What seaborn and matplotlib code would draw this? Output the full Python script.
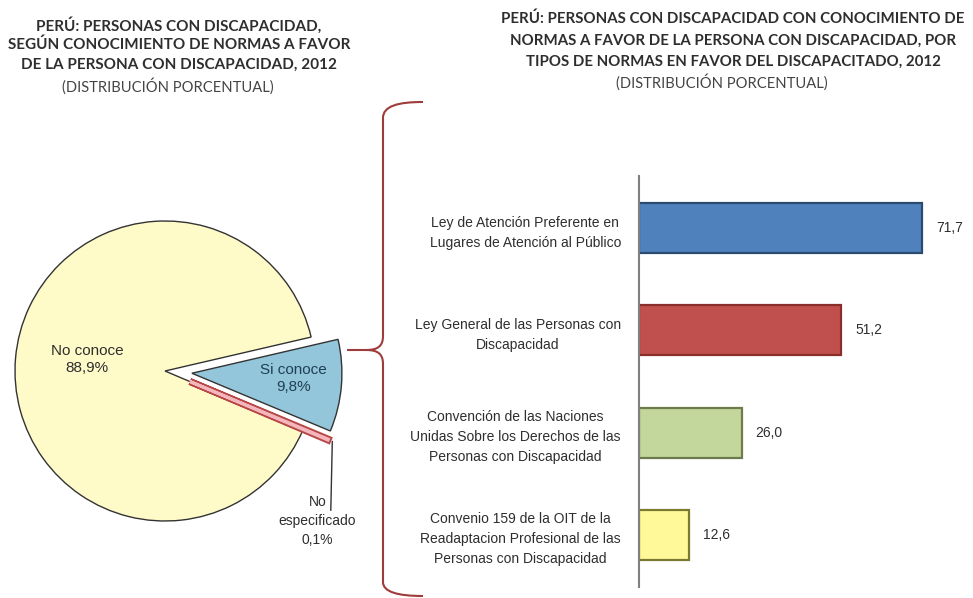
import matplotlib
matplotlib.use('Agg')
import matplotlib.pyplot as plt
import matplotlib.patheffects as pe
import seaborn as sns
import numpy as np
import pandas as pd
from matplotlib.path import Path
from matplotlib.patches import PathPatch
from matplotlib.transforms import Affine2D

# ---------------- data ----------------
pie_labels = ['No especificado', 'Si conoce', 'No conoce']
pie_values = [0.1, 9.8, 88.9]
pie_texts = ['No\nespecificado\n0,1%', 'Si conoce\n9,8%', 'No conoce\n88,9%']

bar_categories = [
    'Ley de Atención Preferente en\nLugares de Atención al Público',
    'Ley General de las Personas con\nDiscapacidad',
    'Convención de las Naciones\nUnidas Sobre los Derechos de las\nPersonas con Discapacidad',
    'Convenio 159 de la OIT de la\nReadaptacion Profesional de las\nPersonas con Discapacidad',
]
bar_values = [71.7, 51.2, 26.0, 12.6]
bar_value_labels = ['71,7', '51,2', '26,0', '12,6']

left_title = ['PERÚ: PERSONAS CON DISCAPACIDAD,',
              'SEGÚN CONOCIMIENTO DE NORMAS A FAVOR',
              'DE LA PERSONA CON DISCAPACIDAD, 2012']
right_title = ['PERÚ: PERSONAS CON DISCAPACIDAD CON CONOCIMIENTO DE',
               'NORMAS A FAVOR DE LA PERSONA CON DISCAPACIDAD, POR',
               'TIPOS DE NORMAS EN FAVOR DEL DISCAPACITADO, 2012']
subtitle = '(DISTRIBUCIÓN PORCENTUAL)'

# ---------------- style ----------------
W, H = 973, 598
sns.set_theme(style='white')
plt.rcParams['font.family'] = ['Lato', 'DejaVu Sans']
NARROW = ['Liberation Sans Narrow', 'Liberation Sans', 'DejaVu Sans']
TXT = '#2e2e2e'

fig = plt.figure(figsize=(W / 100, H / 100), dpi=100)
fig.patch.set_facecolor('white')


def px_axes(x0, y0, x1, y1):
    return fig.add_axes([x0 / W, 1 - y1 / H, (x1 - x0) / W, (y1 - y0) / H])


# ---------------- titles ----------------
for i, line in enumerate(left_title):
    fig.text(179 / W, 1 - (25 + 20 * i) / H, line, ha='center', va='center',
             fontsize=11, fontweight='bold', color=TXT)
fig.text(168 / W, 1 - 86 / H, subtitle, ha='center', va='center',
         fontsize=10.6, color='#444444')
for i, line in enumerate(right_title):
    fig.text(733 / W, 1 - (19 + 21.5 * i) / H, line, ha='center', va='center',
             fontsize=10.85, fontweight='bold', color=TXT)
fig.text(722 / W, 1 - 82 / H, subtitle, ha='center', va='center',
         fontsize=10.6, color='#444444')

# ---------------- pie ----------------
cx, cy, r = 165, 371, 150
ax_pie = px_axes(0, 180, 420, 598)
pie_colors = ['#F4B6BC', '#93C6DA', '#FFFBC9']
wedges, _ = ax_pie.pie(pie_values, colors=pie_colors, startangle=-23,
                       explode=[0.18, 0.18, 0.0], radius=1, counterclock=True,
                       wedgeprops=dict(edgecolor='#333333', linewidth=1.0))
wedges[0].set_edgecolor('#F4B6BC')
wedges[0].set_linewidth(2.2)
wedges[0].set_path_effects([pe.Stroke(linewidth=5.0, foreground='#B84848'), pe.Normal()])
wedges[0].set_zorder(5)
ax_pie.set_aspect('auto')
ax_pie.set_xlim((0 - cx) / r, (420 - cx) / r)
ax_pie.set_ylim((cy - 598) / r, (cy - 180) / r)
ax_pie.axis('off')


def wedge_point(w, frac_r, ang=None):
    th = np.deg2rad((w.theta1 + w.theta2) / 2 if ang is None else ang)
    c = w.center
    return c[0] + frac_r * np.cos(th), c[1] + frac_r * np.sin(th)


# labels
x, y = wedge_point(wedges[2], 0.52)
ax_pie.text(x, y + 0.03, pie_texts[2], ha='center', va='center', family=NARROW,
            fontsize=11, color=TXT, linespacing=1.3)
x, y = wedge_point(wedges[1], 0.68, ang=(wedges[1].theta1 + wedges[1].theta2) / 2 + 2)
ax_pie.text(x, y, pie_texts[1], ha='center', va='center', family=NARROW,
            fontsize=11, color='#1f3f55', linespacing=1.3)
ox, oy = wedge_point(wedges[0], 1.03)
ax_pie.plot([ox, ox - 0.01], [oy, oy - 0.46], color='#333333', lw=1.0)
ax_pie.text(ox - 0.1, oy - 0.36, pie_texts[0], ha='center', va='top',
            family=NARROW, fontsize=10, color=TXT, linespacing=1.45)

# ---------------- brace ----------------
pix = Affine2D().scale(1 / W, -1 / H).translate(0, 1) + fig.transFigure
verts = [(423, 102), (398, 102), (383, 106), (383, 118),
         (383, 336),
         (383, 346), (378, 350), (366, 350),
         (347, 350),
         (366, 350),
         (378, 350), (383, 354), (383, 364),
         (383, 582),
         (383, 592), (398, 596), (423, 596)]
codes = [Path.MOVETO, Path.CURVE4, Path.CURVE4, Path.CURVE4,
         Path.LINETO,
         Path.CURVE4, Path.CURVE4, Path.CURVE4,
         Path.LINETO,
         Path.MOVETO,
         Path.CURVE4, Path.CURVE4, Path.CURVE4,
         Path.LINETO,
         Path.CURVE4, Path.CURVE4, Path.CURVE4]
fig.patches.append(PathPatch(Path(verts, codes), transform=pix, fill=False,
                             edgecolor='#9E3B3B', lw=1.5))

# ---------------- bars ----------------
ax_bar = px_axes(639, 176, 973, 587)
df = pd.DataFrame({'categoria': bar_categories, 'valor': bar_values})
bar_fill = ['#4F81BD', '#C0504D', '#C3D69B', '#FFF99A']
bar_edge = ['#2B4A70', '#8A2E2C', '#6E7B4A', '#7A7A30']
sns.barplot(data=df, x='valor', y='categoria', hue='categoria',
            palette=bar_fill, orient='h', width=0.49, legend=False,
            ax=ax_bar, saturation=1)
for cont, ec in zip(ax_bar.containers, bar_edge):
    for p in cont:
        p.set_edgecolor(ec)
        p.set_linewidth(1.6)
for i, (v, lab) in enumerate(zip(bar_values, bar_value_labels)):
    ax_bar.annotate(lab, xy=(v, i), xytext=(10, 0), textcoords='offset points',
                    ha='left', va='center', family=NARROW, fontsize=10, color=TXT)
ax_bar.set_xlim(0, 334 / 3.95)
ax_bar.set_ylim(3.51, -0.51)
ax_bar.set_xlabel('')
ax_bar.set_ylabel('')
ax_bar.set_xticks([])
ax_bar.tick_params(axis='y', length=0, pad=13)
for t in ax_bar.get_yticklabels():
    t.set_family(NARROW)
    t.set_fontsize(10)
    t.set_color(TXT)
    t.set_multialignment('center')
    t.set_linespacing(1.55)
for s in ['top', 'right', 'bottom']:
    ax_bar.spines[s].set_visible(False)
ax_bar.spines['left'].set_color('#808080')
ax_bar.spines['left'].set_linewidth(1.5)
ax_bar.set_facecolor('none')

fig.savefig('out.png', dpi=100, facecolor='white')
